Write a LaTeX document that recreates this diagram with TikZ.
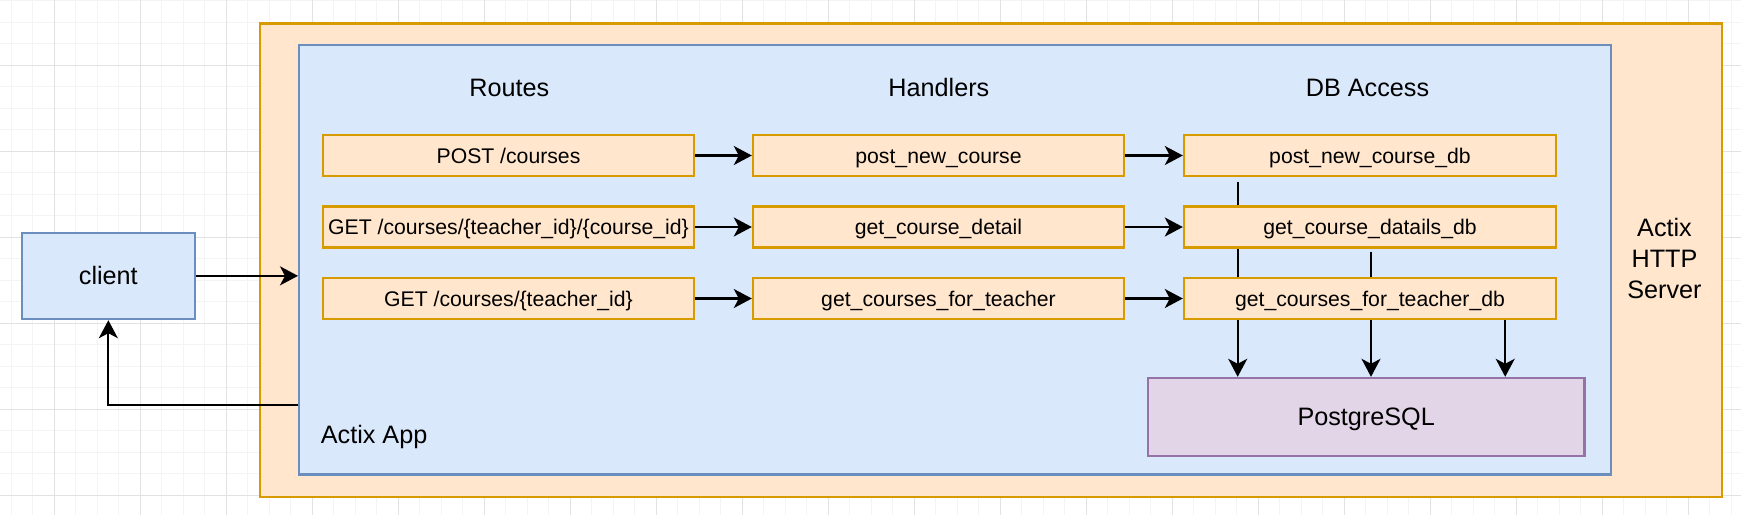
\documentclass[tikz,border=0pt]{standalone}
\usepackage{fontspec}
\setmainfont{Liberation Sans}
\usetikzlibrary{arrows.meta,calc}
\pgfdeclarelayer{back}
\pgfdeclarelayer{mid}
\pgfsetlayers{back,mid,main}
\definecolor{ofill}{HTML}{FFE6CC}
\definecolor{oline}{HTML}{D79B00}
\definecolor{bfill}{HTML}{DAE8FC}
\definecolor{bline}{HTML}{6C8EBF}
\definecolor{pfill}{HTML}{E1D5E7}
\definecolor{pline}{HTML}{9673A6}
\definecolor{gmaj}{HTML}{E2E2E2}
\definecolor{gmin}{HTML}{F4F4F4}
\newcommand{\smallfs}{\fontsize{21.2pt}{25pt}\selectfont}
\newcommand{\bigfs}{\fontsize{25.2pt}{31pt}\selectfont}
\begin{document}
\begin{tikzpicture}[x=1pt,y=-1pt,
  box/.style={draw=oline, fill=ofill, line width=2.4pt, minimum width=371pt, minimum height=41pt, inner sep=0pt, font=\smallfs, text height=15.2pt, text depth=0pt},
  bluebox/.style={draw=bline, fill=bfill, line width=2.4pt, inner sep=0pt},
  lbl/.style={inner sep=0pt, font=\bigfs, text height=18pt, text depth=0pt},
  arr/.style={line width=2.2pt, -{Stealth[length=18pt,width=19pt,inset=5pt]}},
]
\useasboundingbox (0,0) rectangle (1741,515);
\begin{pgfonlayer}{back}
  \fill[white] (0,0) rectangle (1741,515);
  \foreach \i in {0,...,80} \draw[gmin,line width=1pt] ({11.3+21.5*\i},0) -- ++(0,515);
  \foreach \j in {0,...,23} \draw[gmin,line width=1pt] (0,{0.8+21.5*\j}) -- ++(1741,0);
  \foreach \k in {0,...,19} \draw[gmaj,line width=1pt] ({54.3+86*\k},0) -- ++(0,515);
  \foreach \k in {0,...,5} \draw[gmaj,line width=1pt] (0,{65.3+86*\k}) -- ++(1741,0);
  \node[draw=oline, fill=ofill, line width=2.4pt, inner sep=0pt, anchor=north west,
        minimum width=1462pt, minimum height=473.2pt] (server) at (259,22.3) {};
  \node[bluebox, anchor=north west, minimum width=1311.7pt, minimum height=429.6pt] (app) at (298,43.7) {};
\end{pgfonlayer}

% client and database
\node[bluebox, minimum width=172.7pt, minimum height=86.3pt, font=\bigfs, text height=18pt, text depth=0pt] (client) at (108.35,275.85) {client};
\node[draw=pline, fill=pfill, line width=2.4pt, inner sep=0pt, minimum width=436.3pt, minimum height=77.7pt, font=\bigfs, text height=18pt, text depth=0pt] (pg) at (1366.15,416.85) {PostgreSQL};

% column titles
\node[lbl] (troutes) at (509.3,87) {Routes};
\node[lbl] (thandlers) at (938.9,87) {Handlers};
\node[lbl] (tdb) at (1367.5,87) {DB Access};
\node[lbl, anchor=west] (tapp) at (320.7,434.3) {Actix App};
\node[inner sep=0pt, font=\bigfs, align=center, anchor=north] (tserver) at (1664.5,218.3) {Actix\\HTTP\\Server};

% routes
\node[box] (r1) at (508.5,155.5) {POST /courses};
\node[box] (r2) at (508.5,227) {GET /courses/\{teacher\_id\}/\{course\_id\}};
\node[box] (r3) at (508.5,298.5) {GET /courses/\{teacher\_id\}};
% handlers
\node[box] (h1) at (938.5,155.5) {post\_new\_course};
\node[box] (h2) at (938.5,227) {get\_course\_detail};
\node[box] (h3) at (938.5,298.5) {get\_courses\_for\_teacher};
% db access
\node[box, minimum width=372pt] (d1) at (1370,155.5) {post\_new\_course\_db};
\node[box, minimum width=372pt] (d2) at (1370,227) {get\_course\_datails\_db};
\node[box, minimum width=372pt] (d3) at (1370,298.5) {get\_courses\_for\_teacher\_db};

\coordinate (ret) at (298,405);
\coordinate (s1) at (1237.7,181.5);
\coordinate (s2) at (1371,251.7);
\coordinate (s3) at ([xshift=-52pt]d3.south east);

\begin{pgfonlayer}{mid}
  \draw[arr] (client.east) -- (client.east -| app.west);
  \draw[arr] (ret) -| (client.south);
  \draw[arr] (r1) -- (h1);
  \draw[arr] (r2) -- (h2);
  \draw[arr] (r3) -- (h3);
  \draw[arr] (h1) -- (d1);
  \draw[arr] (h2) -- (d2);
  \draw[arr] (h3) -- (d3);
  \draw[arr] (s1) -- (s1 |- pg.north);
  \draw[arr] (s2) -- (s2 |- pg.north);
  \draw[arr] (s3) -- (s3 |- pg.north);
\end{pgfonlayer}
\end{tikzpicture}
\end{document}
